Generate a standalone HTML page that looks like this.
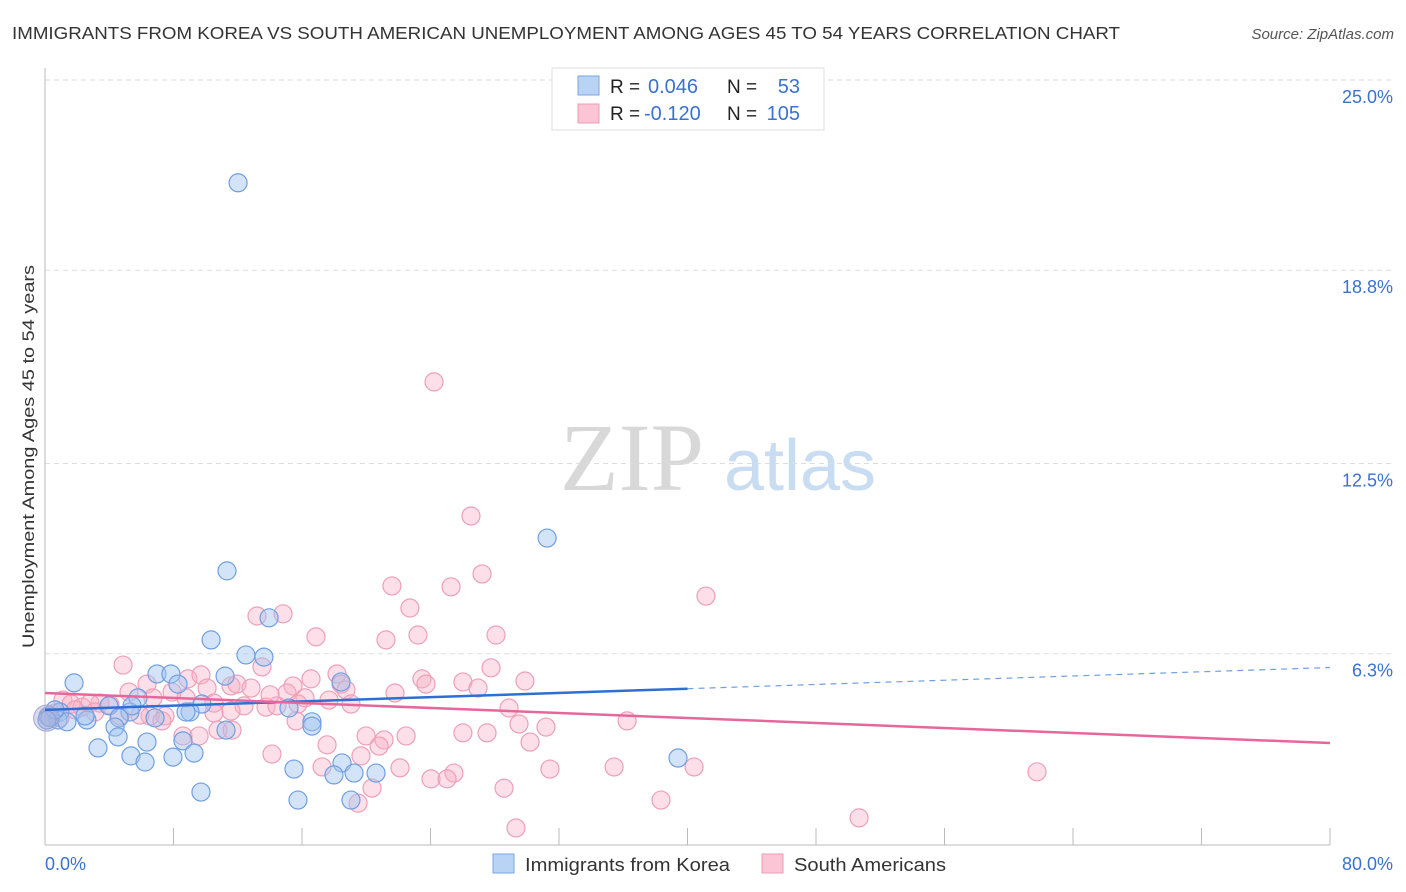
<!DOCTYPE html>
<html><head><meta charset="utf-8"><style>
body{margin:0;background:#fff;font-family:"Liberation Sans",sans-serif}
svg{display:block}
</style></head><body>
<svg id="chart" width="1406" height="892">
<text x="12" y="39" font-size="17.5" fill="#333" textLength="1108" lengthAdjust="spacingAndGlyphs">IMMIGRANTS FROM KOREA VS SOUTH AMERICAN UNEMPLOYMENT AMONG AGES 45 TO 54 YEARS CORRELATION CHART</text>
<text x="1394" y="39" font-size="15" fill="#555" font-style="italic" text-anchor="end">Source: ZipAtlas.com</text>
<text x="632" y="490" font-size="96" fill="#d8d8d8" font-family="Liberation Serif,serif" text-anchor="middle">ZIP</text>
<text x="800" y="490" font-size="72" fill="#c8dcf2" text-anchor="middle">atlas</text>
<text x="-648" y="34" transform="rotate(-90)" font-size="17" fill="#333" textLength="383" lengthAdjust="spacingAndGlyphs">Unemployment Among Ages 45 to 54 years</text>
<g id="grid"></g><g id="ticks"></g><g id="pts"></g><g id="lines"></g>
<g>
<rect x="552" y="68" width="272" height="62" fill="#fff" stroke="#ddd"/>
<rect x="578" y="76" width="21" height="19" fill="#b9d3f5" stroke="#7aa6e6"/>
<rect x="578" y="104" width="21" height="19" fill="#fbc5d5" stroke="#f09bb5"/>
<text x="610" y="93" font-size="19" fill="#222">R = </text><text x="648" y="93" font-size="20" fill="#3a72d0">0.046</text>
<text x="727" y="93" font-size="19" fill="#222">N = </text><text x="800" y="93" font-size="20" fill="#3a72d0" text-anchor="end">53</text>
<text x="610" y="120" font-size="19" fill="#222">R = </text><text x="644" y="120" font-size="20" fill="#3a72d0">-0.120</text>
<text x="727" y="120" font-size="19" fill="#222">N = </text><text x="800" y="120" font-size="20" fill="#3a72d0" text-anchor="end">105</text>
</g>
<g>
<rect x="493" y="854" width="21" height="19" fill="#b9d3f5" stroke="#7aa6e6"/>
<text x="525" y="871" font-size="18" fill="#333" textLength="205" lengthAdjust="spacingAndGlyphs">Immigrants from Korea</text>
<rect x="762" y="854" width="21" height="19" fill="#fbc5d5" stroke="#f09bb5"/>
<text x="794" y="871" font-size="18" fill="#333" textLength="152" lengthAdjust="spacingAndGlyphs">South Americans</text>
</g>
</svg>
<script>
const yTicks=[25,18.8,12.5,6.3];
const yTickLabels=["25.0%","18.8%","12.5%","6.3%"];
const xTicks=[0,8,16,24,32,40,48,56,64,72,80];
const xEndLabels=["0.0%","80.0%"];
const koreaX=[12.02,31.26,11.33,13.95,10.34,13.63,12.51,11.21,6.97,7.84,1.81,8.28,5.79,9.77,9.03,3.98,5.29,4.61,6.85,0.93,0.19,0.81,1.37,2.61,4.36,16.62,16.62,15.19,18.43,4.55,6.35,3.30,8.59,5.35,6.23,7.97,9.28,11.27,5.42,15.50,18.49,17.99,19.24,20.61,39.41,9.71,15.75,19.05,0.31,0.62,0.12,2.49,8.78];
const koreaY=[21.65,10.07,9.00,7.47,6.75,6.19,6.26,5.57,5.64,5.64,5.35,5.31,4.86,4.66,4.40,4.60,4.40,4.21,4.21,4.40,4.24,4.14,4.08,4.14,3.91,4.08,3.94,4.53,5.38,3.59,3.42,3.23,3.46,2.97,2.77,2.93,3.06,3.81,4.60,2.54,2.74,2.35,2.41,2.41,2.90,1.79,1.53,1.53,4.21,4.47,4.14,4.27,4.40];
const saX=[24.22,26.52,27.21,21.60,25.28,41.15,22.72,13.20,14.82,23.22,16.87,28.08,21.23,4.86,13.51,27.77,18.18,8.90,9.71,29.88,6.35,23.47,26.02,23.72,11.58,11.95,15.44,18.43,10.09,12.83,5.23,7.91,18.74,26.96,21.79,15.07,6.72,8.78,16.19,15.75,17.68,3.42,4.05,10.52,12.39,13.76,14.44,28.89,1.12,1.62,2.30,2.80,0.62,6.54,7.47,11.58,15.63,7.28,10.52,36.24,29.51,31.19,19.99,21.11,22.48,26.02,27.52,30.20,10.77,11.64,8.59,9.59,17.56,20.80,19.67,14.13,17.25,22.10,25.46,24.03,25.03,31.44,35.43,40.41,61.76,28.58,20.36,19.49,38.35,50.68,29.32,0.19,0.93,1.87,3.11,4.67,5.91,14.01,16.56,19.05];
const saY=[15.16,10.79,8.90,8.51,8.48,8.18,7.79,7.53,7.60,6.91,6.85,6.91,6.75,5.93,5.87,5.84,5.64,5.48,5.61,5.41,5.31,5.48,5.38,5.31,5.25,5.31,5.25,5.31,5.18,5.18,5.05,5.05,5.12,5.18,5.02,5.02,4.86,4.86,4.86,4.66,4.79,4.69,4.63,4.69,4.60,4.56,4.60,4.53,4.79,4.66,4.56,4.69,4.37,4.27,4.27,4.43,4.11,4.11,4.37,4.11,4.01,3.91,3.62,3.49,3.62,3.72,3.72,3.42,3.81,3.81,3.62,3.62,3.33,3.29,2.97,3.03,2.61,2.58,2.41,2.22,2.22,2.54,2.61,2.61,2.45,1.92,1.92,1.43,1.53,0.95,0.62,4.27,4.21,4.47,4.40,4.27,4.30,4.96,5.48,4.66];
const koreaTrend=[4.47,5.16];
const saTrend=[5.02,3.39];
const NS="http://www.w3.org/2000/svg";
const X=v=>45+v*(1285/80), Y=v=>847-v*30.68;
function mk(tag,attrs,parent){const e=document.createElementNS(NS,tag);for(const k in attrs)e.setAttribute(k,attrs[k]);document.getElementById(parent).appendChild(e);return e;}
yTicks.forEach((t,i)=>{
 const l=mk('line',{x1:45,x2:1392,y1:Y(t),y2:Y(t),stroke:'#ddd','stroke-dasharray':'5,4'},'grid');
 
 
 const tx=mk('text',{x:1393,y:Y(t)+23,'font-size':18,fill:'#3a72d0','text-anchor':'end'},'grid');
 tx.textContent=yTickLabels[i];
 
 
});
mk('line',{x1:45,x2:45,y1:68,y2:845,stroke:'#bbb'},'ticks');
mk('line',{x1:45,x2:1330,y1:845,y2:845,stroke:'#bbb'},'ticks');
xTicks.forEach(t=>{
 const l=mk('line',{x1:X(t),x2:X(t),y1:828,y2:845,stroke:'#bbb'},'ticks');
 
 
});
[[0,'start',45],[80,'end',1393]].forEach((d,i)=>{
 const tx=mk('text',{x:d[2],y:870,'font-size':18,fill:'#3a72d0','text-anchor':d[1]},'ticks');
 tx.textContent=xEndLabels[i];
 
 
});
saX.forEach((v,i)=>{
 const c=mk('circle',{cx:X(v),cy:Y(saY[i]),r:9,fill:'rgba(248,175,198,0.4)',stroke:'#ef9fb8','stroke-width':1.2},'pts');
 
 
});
koreaX.forEach((v,i)=>{
 const c=mk('circle',{cx:X(v),cy:Y(koreaY[i]),r:9,fill:'rgba(160,196,240,0.45)',stroke:'#6f9fe2','stroke-width':1.2},'pts');
 
 
});
const big=mk('circle',{cx:X(0.1),cy:Y(4.2),r:13,fill:'rgba(170,170,210,0.45)',stroke:'#a0a8d8'},'pts');


let l1=mk('line',{x1:X(0),y1:Y(koreaTrend[0]),x2:X(40),y2:Y(koreaTrend[1]),stroke:'#2e6fd6','stroke-width':2.5},'lines');


const kSlope=(koreaTrend[1]-koreaTrend[0])/40;
let l2=mk('line',{x1:X(40),y1:Y(koreaTrend[1]),x2:X(80),y2:Y(koreaTrend[0]+kSlope*80),stroke:'#6f9fe2','stroke-width':1.2,'stroke-dasharray':'6,5'},'lines');


let l3=mk('line',{x1:X(0),y1:Y(saTrend[0]),x2:X(80),y2:Y(saTrend[1]),stroke:'#e8679a','stroke-width':2.5},'lines');


</script>
</body></html>
